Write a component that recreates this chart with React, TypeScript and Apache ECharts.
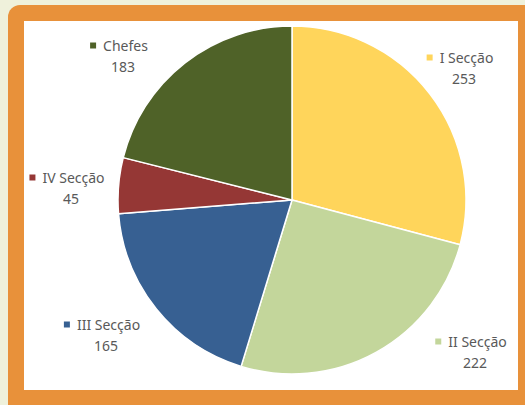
import React, { useEffect, useRef } from "react";
import * as echarts from "echarts";

const categories = ["I Secção", "II Secção", "III Secção", "IV Secção", "Chefes"];
const values = [253, 222, 165, 45, 183];
const colors = ["#FFD55B", "#C3D69B", "#376092", "#953735", "#4F6228"];
const labelPos: [number, number][] = [
  [460, 68],
  [471, 352],
  [102, 335],
  [67, 188],
  [119, 56],
];

export default function App() {
  const ref = useRef<HTMLDivElement>(null);
  useEffect(() => {
    document.body.style.margin = "0";
    const chart = echarts.init(ref.current!, null, { renderer: "svg" });
    const data = categories.map((name, i) => ({
      name,
      value: values[i],
      itemStyle: { color: colors[i] },
      label: {
        rich: {
          m: { width: 6, height: 6, backgroundColor: colors[i], padding: 0 },
        },
      },
    }));
    chart.setOption({
      animation: false,
      backgroundColor: "#EFF1DB",
      graphic: [
        {
          type: "rect",
          shape: { x: 8, y: 5, width: 540, height: 420, r: 12 },
          style: { fill: "#E8913A" },
          z: -10,
        },
        {
          type: "rect",
          shape: { x: 24, y: 21, width: 494, height: 369 },
          style: { fill: "#FFFFFF" },
          z: -9,
        },
      ],
      series: [
        {
          type: "pie",
          center: [292, 200],
          radius: 174,
          startAngle: 90,
          clockwise: true,
          data,
          itemStyle: { borderColor: "#FFFFFF", borderWidth: 1.5 },
          labelLine: { show: false },
          label: {
            show: true,
            position: "outside",
            overflow: "none",
            formatter: (p: any) => `{m|}{t|${p.name}}\n{v|${p.value}}`,
            color: "#595959",
            fontFamily: "Noto Sans",
            fontSize: 14,
            lineHeight: 21,
            align: "center",
            rich: {
              t: { fontFamily: "Noto Sans", fontSize: 14, color: "#595959", lineHeight: 21, padding: [0, 0, 0, 7] },
              v: { fontFamily: "Noto Sans", fontSize: 14, color: "#595959", lineHeight: 21, padding: [0, 0, 0, 8] },
            },
          },
          labelLayout: (params: any) => {
            const p = labelPos[params.dataIndex];
            return { x: p[0], y: p[1], align: "center", verticalAlign: "middle" };
          },
          emphasis: { disabled: true },
        },
      ],
    });
    return () => chart.dispose();
  }, []);
  return <div ref={ref} style={{ width: 525, height: 405 }} />;
}
